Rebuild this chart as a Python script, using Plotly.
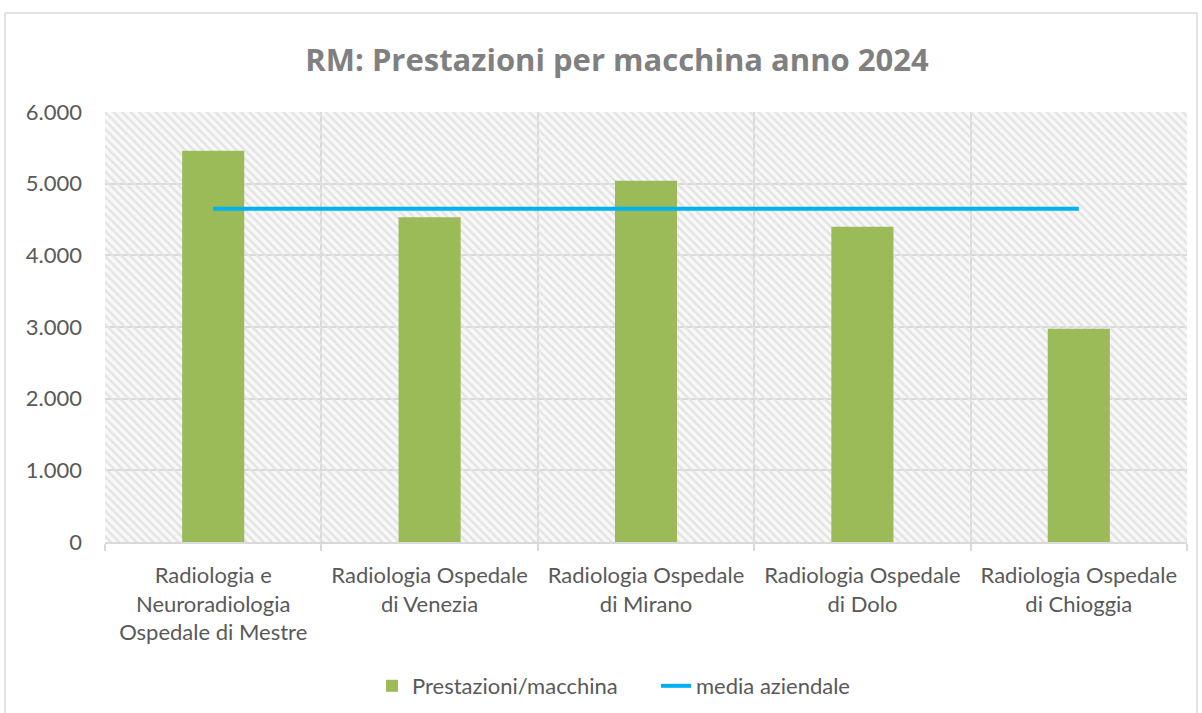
import plotly.graph_objects as go

categories = [
    "Radiologia e<br>Neuroradiologia<br>Ospedale di Mestre",
    "Radiologia Ospedale<br>di Venezia",
    "Radiologia Ospedale<br>di Mirano",
    "Radiologia Ospedale<br>di Dolo",
    "Radiologia Ospedale<br>di Chioggia",
]
prestazioni_macchina = [5460, 4530, 5040, 4400, 2975]
media_aziendale = [4650, 4650, 4650, 4650, 4650]
y_ticks = [0, 1000, 2000, 3000, 4000, 5000, 6000]
y_max = 6000

FONT = "Lato"
TXT = "#595959"
GRID = "#D9D9D9"

fig = go.Figure()

# hatched plot-area background
fig.add_trace(go.Bar(
    x=categories, y=[y_max] * len(categories), width=1.0,
    marker=dict(color="rgba(0,0,0,0)", line=dict(width=0),
                pattern=dict(shape="\\", fgcolor="#E3E3E3", bgcolor="rgba(0,0,0,0)",
                             size=6, solidity=0.4, fillmode="replace")),
    showlegend=False, hoverinfo="skip",
))

fig.add_trace(go.Bar(
    x=categories, y=prestazioni_macchina, width=0.287,
    name="Prestazioni/macchina",
    marker=dict(color="#9BBB59", line=dict(width=0)),
))

fig.add_trace(go.Scatter(
    x=categories, y=media_aziendale, mode="lines",
    name="media aziendale",
    line=dict(color="#00B0F0", width=4),
))

L, R, T, B = 105, 15, 112, 171
W, H = 1202, 713
pw, ph = W - L - R, H - T - B

fig.update_layout(
    width=W, height=H,
    margin=dict(l=L, r=R, t=T, b=B),
    paper_bgcolor="white",
    plot_bgcolor="#F8F8F8",
    barmode="overlay",
    separators=",.",
    font=dict(family=FONT, size=22, color=TXT),
    title=dict(text="<b>RM: Prestazioni per macchina anno 2024</b>",
               x=617 / W, xanchor="center", xref="container",
               y=1 - 60 / H, yanchor="middle", yref="container",
               font=dict(family="Open Sans", size=31, color="#808080")),
    legend=dict(orientation="h", x=372 / W, xanchor="left",
                xref="container", y=1 - 686 / H, yanchor="middle", yref="container",
                font=dict(family=FONT, size=22, color=TXT),
                entrywidth=239, entrywidthmode="pixels",
                traceorder="normal"),
    showlegend=True,
    xaxis=dict(type="category", tickson="boundaries", showgrid=True,
               gridcolor=GRID, gridwidth=1.5, ticks="outside", ticklen=7,
               tickcolor=GRID, tickwidth=1.5, showline=True, linecolor=GRID,
               linewidth=1.5, tickfont=dict(family=FONT, size=22, color=TXT),
               ticklabelstandoff=13, fixedrange=True),
    yaxis=dict(range=[0, y_max], tickvals=y_ticks, tickformat=",d",
               showgrid=True, gridcolor=GRID, gridwidth=1.5, zeroline=False,
               showline=False, ticks="", ticklabelstandoff=22,
               tickfont=dict(family=FONT, size=22, color=TXT), fixedrange=True),
    shapes=[dict(type="rect", xref="paper", yref="paper",
                 x0=(5 - L) / pw, x1=(1197 - L) / pw,
                 y0=(T + ph - 730) / ph, y1=(T + ph - 13) / ph,
                 line=dict(color=GRID, width=1.5), fillcolor="rgba(0,0,0,0)",
                 layer="below")],
)

fig.write_html("out.html", config={"displayModeBar": False},
               post_script="document.body.style.margin='0';")
